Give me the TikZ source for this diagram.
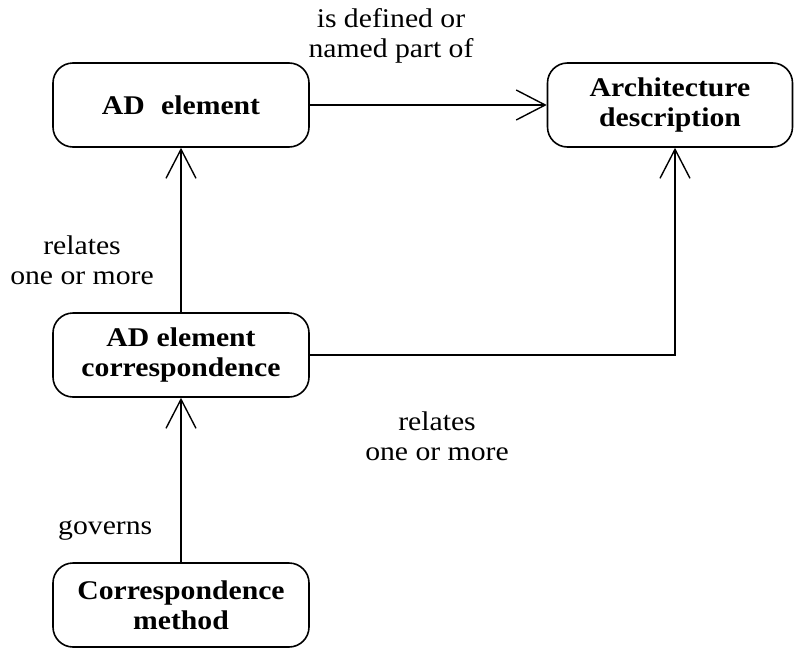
\documentclass[tikz,border=0pt]{standalone}
\usepackage{fontspec}
\setmainfont{Liberation Serif}[FakeStretch=1.1]
\usetikzlibrary{arrows.meta}
\begin{document}
\begin{tikzpicture}[x=1pt,y=-1pt,
  box/.style={draw, line width=1.6pt, rounded corners=20pt, minimum height=84pt,
    inner sep=0pt, align=center, font=\fontsize{27}{30}\selectfont\bfseries},
  conn/.style={line width=1.4pt, -{Straight Barb[length=29pt,width=30pt,line width=1.4pt]}},
  lbl/.style={inner sep=0pt, align=center, font=\fontsize{27}{30}\selectfont}
]
\useasboundingbox (0,0) rectangle (795,648);
\node[box, minimum width=256pt] (ade) at (181,105) {AD\,\, element};
\node[box, minimum width=245pt] (arch) at (670,105) {Architecture\\description};
\node[box, minimum width=256pt] (cor) at (181,355) {AD element\\correspondence};
\node[box, minimum width=256pt] (meth) at (181,605) {Correspondence\\method};
\draw[conn] (cor.north) -- (ade.south);
\draw[conn] (ade.east) -- (arch.west);
\draw[conn] (cor.east) -| ([xshift=5pt]arch.south);
\draw[conn] (meth.north) -- (cor.south);
\node[lbl] (l1) at (391,36) {is defined or\\named part of};
\node[lbl] (l2) at (82,260) {relates\\one or more};
\node[lbl] (l3) at (437,436) {relates\\one or more};
\node[lbl, anchor=west] (l4) at (58,530) {governs};
\end{tikzpicture}
\end{document}
